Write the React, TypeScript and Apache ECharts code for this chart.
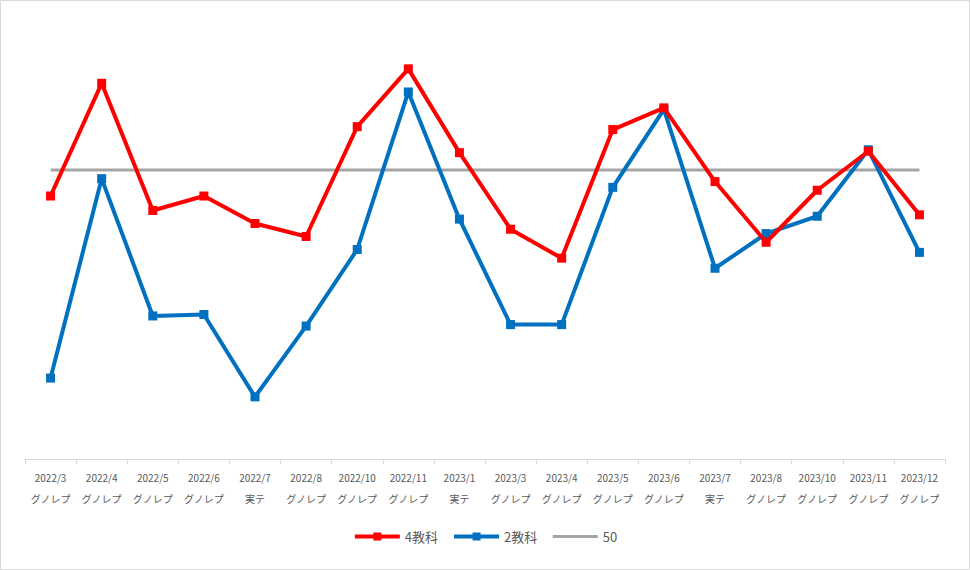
import React, { useEffect, useRef } from "react";
import * as echarts from "echarts";

const categories = [
  "2022/3\nグノレプ", "2022/4\nグノレプ", "2022/5\nグノレプ", "2022/6\nグノレプ", "2022/7\n実テ",
  "2022/8\nグノレプ", "2022/10\nグノレプ", "2022/11\nグノレプ", "2023/1\n実テ", "2023/3\nグノレプ",
  "2023/4\nグノレプ", "2023/5\nグノレプ", "2023/6\nグノレプ", "2023/7\n実テ", "2023/8\nグノレプ",
  "2023/10\nグノレプ", "2023/11\nグノレプ", "2023/12\nグノレプ",
];

const fourSubjects = [48.2, 56.0, 47.2, 48.2, 46.3, 45.4, 53.0, 57.0, 51.2, 45.9, 43.9, 52.8, 54.3, 49.2, 45.0, 48.6, 51.3, 46.9];
const twoSubjects = [35.6, 49.4, 39.9, 40.0, 34.3, 39.2, 44.5, 55.4, 46.6, 39.3, 39.3, 48.8, 54.2, 43.2, 45.6, 46.8, 51.4, 44.3];
const fifty = categories.map(() => 50);

const seriesNames = ["4教科", "2教科", "50"];

export default function App() {
  const ref = useRef<HTMLDivElement>(null);
  useEffect(() => {
    document.body.style.margin = "0";
    const chart = echarts.init(ref.current!, undefined, { renderer: "svg" });
    const font = "'Noto Sans CJK JP', 'Noto Sans', sans-serif";
    chart.setOption({
      animation: false,
      backgroundColor: "#ffffff",
      textStyle: { fontFamily: font },
      graphic: [
        {
          type: "rect",
          shape: { x: 0.5, y: 0.5, width: 969, height: 569 },
          style: { fill: "none", stroke: "#d9d9d9", lineWidth: 1 },
          silent: true,
        },
      ],
      grid: { left: 25, right: 25, top: 25.5, bottom: 111, containLabel: false },
      xAxis: {
        type: "category",
        data: categories,
        boundaryGap: true,
        axisLine: { lineStyle: { color: "#d9d9d9", width: 1 } },
        axisTick: { show: true, length: 5, lineStyle: { color: "#d9d9d9" } },
        axisLabel: {
          interval: 0,
          color: "#595959",
          fontSize: 10,
          lineHeight: 21,
          margin: 8,
          fontFamily: font,
        },
      },
      yAxis: {
        type: "value",
        min: 30,
        max: 60,
        show: false,
        splitLine: { show: false },
      },
      legend: {
        bottom: 22,
        left: "center",
        itemWidth: 45,
        itemHeight: 10,
        itemGap: 14,
        textStyle: { color: "#595959", fontSize: 13, fontFamily: font },
        data: [
          { name: seriesNames[0], lineStyle: { width: 4 } },
          { name: seriesNames[1], lineStyle: { width: 4 } },
          { name: seriesNames[2], lineStyle: { width: 3 }, itemStyle: { opacity: 0 } },
        ],
      },
      series: [
        {
          name: seriesNames[2],
          type: "line",
          data: fifty,
          symbol: "none",
          lineStyle: { color: "#a5a5a5", width: 3 },
          itemStyle: { color: "#a5a5a5" },
          z: 1,
        },
        {
          name: seriesNames[1],
          type: "line",
          data: twoSubjects,
          symbol: "rect",
          symbolSize: 9,
          lineStyle: { color: "#0070c0", width: 4 },
          itemStyle: { color: "#0070c0" },
          z: 2,
        },
        {
          name: seriesNames[0],
          type: "line",
          data: fourSubjects,
          symbol: "rect",
          symbolSize: 9,
          lineStyle: { color: "#ff0000", width: 4 },
          itemStyle: { color: "#ff0000" },
          z: 3,
        },
      ],
    });
    return () => chart.dispose();
  }, []);
  return <div ref={ref} style={{ position: "absolute", left: 0, top: 0, width: 970, height: 570 }} />;
}
